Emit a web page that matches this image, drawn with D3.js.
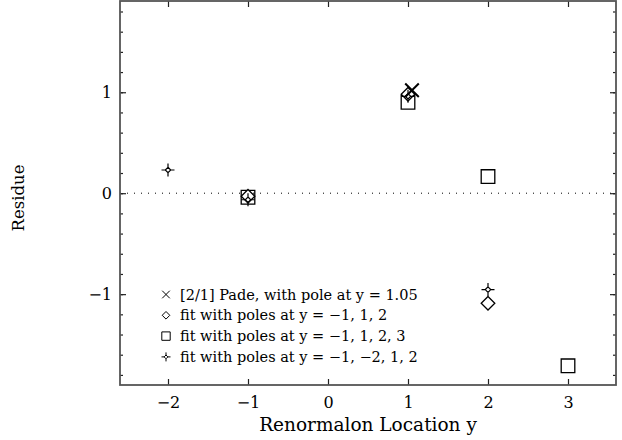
<!DOCTYPE html>
<html>
<head>
<meta charset="utf-8">
<style>
body { margin: 0; background: #fff; }
text { font-family: "DejaVu Serif", serif; fill: #000; }
</style>
</head>
<body>
<script src="https://cdn.jsdelivr.net/npm/d3@7"></script>
<script>

// data
var padeX = [1.05],            padeY = [1.02];
var fit3X = [-1, 1, 2],        fit3Y = [-0.03, 0.98, -1.09];
var fit4X = [-1, 1, 2, 3],     fit4Y = [-0.04, 0.90, 0.165, -1.71];
var starX = [-2, -1, 1, 2],    starY = [0.23, -0.065, 0.96, -0.955];

var xTicks = [-2, -1, 0, 1, 2, 3];
var yTicks = [-1, 0, 1];
var yMinor = d3.range(-1.8, 1.81, 0.2);
var legendLabels = [
  "[2/1] Pade, with pole at y = 1.05",
  "fit with poles at y = \u22121, 1, 2",
  "fit with poles at y = \u22121, 1, 2, 3",
  "fit with poles at y = \u22121, \u22122, 1, 2"
];

var width = 622, height = 440;
var pLeft = 120, pRight = 616, pTop = 1, pBottom = 385;

var x = d3.scaleLinear().domain([-2.6, 3.6]).range([pLeft, pRight]);
var y = d3.scaleLinear().domain([-1.9, 1.904]).range([pBottom, pTop]);

var svg = d3.select("body").append("svg")
    .attr("width", width)
    .attr("height", height);

// zero line
svg.append("line")
    .attr("x1", pLeft).attr("x2", pRight)
    .attr("y1", y(0)).attr("y2", y(0))
    .style("stroke", "#000")
    .style("stroke-width", 1)
    .style("stroke-dasharray", "1,6");

var fmt = function(d) { return d < 0 ? "\u2212" + Math.abs(d) : "" + d; };

// axes, ticks pointing inward
svg.append("g")
    .attr("transform", "translate(0," + pBottom + ")")
    .call(d3.axisBottom(x).tickValues(xTicks).tickSize(-6).tickPadding(12).tickFormat(fmt));
svg.append("g")
    .attr("transform", "translate(0," + pTop + ")")
    .call(d3.axisTop(x).tickValues(xTicks).tickSize(-6).tickFormat(""));
svg.append("g")
    .attr("transform", "translate(" + pLeft + ",0)")
    .call(d3.axisLeft(y).tickValues(yMinor).tickSize(-3).tickFormat(""));
svg.append("g")
    .attr("transform", "translate(" + pRight + ",0)")
    .call(d3.axisRight(y).tickValues(yMinor).tickSize(-3).tickFormat(""));
svg.append("g")
    .attr("transform", "translate(" + pLeft + ",0)")
    .call(d3.axisLeft(y).tickValues(yTicks).tickSize(-6).tickPadding(8).tickFormat(fmt));
svg.append("g")
    .attr("transform", "translate(" + pRight + ",0)")
    .call(d3.axisRight(y).tickValues(yTicks).tickSize(-6).tickFormat(""));

svg.selectAll(".domain").remove();
svg.selectAll(".tick line").style("stroke", "#222").style("stroke-width", 1.2);
svg.selectAll(".tick text")
    .style("font-family", "DejaVu Serif, serif")
    .style("font-size", "16px")
    .style("fill", "#000");

// frame
svg.append("rect")
    .attr("x", pLeft).attr("y", pTop)
    .attr("width", pRight - pLeft).attr("height", pBottom - pTop)
    .style("fill", "none")
    .style("stroke", "#555")
    .style("stroke-width", 1.8);

// axis titles
svg.append("text")
    .attr("x", (pLeft + pRight) / 2)
    .attr("y", 431)
    .attr("text-anchor", "middle")
    .style("font-size", "18.5px")
    .text("Renormalon Location y");

svg.append("text")
    .attr("transform", "translate(24,198) rotate(-90)")
    .attr("text-anchor", "middle")
    .style("font-size", "16.5px")
    .text("Residue");

// marker shapes, r = half size
function markerPath(kind, r) {
  var p = d3.path();
  if (kind === "x") {
    p.moveTo(-r, -r); p.lineTo(r, r);
    p.moveTo(r, -r); p.lineTo(-r, r);
  } else if (kind === "diamond") {
    p.moveTo(0, -r); p.lineTo(r, 0); p.lineTo(0, r); p.lineTo(-r, 0); p.closePath();
  } else if (kind === "square") {
    p.rect(-r, -r, 2 * r, 2 * r);
  } else if (kind === "star") {
    var a = r * 0.42;
    p.moveTo(0, -r); p.lineTo(0, -a);
    p.moveTo(0, r); p.lineTo(0, a);
    p.moveTo(-r, 0); p.lineTo(-a, 0);
    p.moveTo(r, 0); p.lineTo(a, 0);
    p.moveTo(0, -a); p.lineTo(a, 0); p.lineTo(0, a); p.lineTo(-a, 0); p.closePath();
  }
  return p.toString();
}

var series = [
  {kind: "square",  xs: fit4X, ys: fit4Y, r: 6.8, w: 1.3},
  {kind: "diamond", xs: fit3X, ys: fit3Y, r: 6.8, w: 1.3},
  {kind: "star",    xs: starX, ys: starY, r: 6.5, w: 1.2},
  {kind: "x",       xs: padeX, ys: padeY, r: 6.8, w: 2}
];

series.forEach(function(s) {
  svg.append("g").selectAll("path")
      .data(s.xs.map(function(v, i) { return [v, s.ys[i]]; }))
      .enter().append("path")
      .attr("transform", function(d) { return "translate(" + x(d[0]) + "," + y(d[1]) + ")"; })
      .attr("d", markerPath(s.kind, s.r))
      .style("fill", s.kind === "x" ? "none" : "#fff")
      .style("fill-opacity", s.kind === "square" ? 0 : 1)
      .style("stroke", "#000")
      .style("stroke-width", s.w);
});

// legend
var legendKinds = ["x", "diamond", "square", "star"];
var legend = svg.append("g").selectAll("g")
    .data(legendLabels)
    .enter().append("g")
    .attr("transform", function(d, i) { return "translate(166," + (294.5 + i * 20.8) + ")"; });

legend.append("path")
    .attr("d", function(d, i) { return markerPath(legendKinds[i], i === 2 ? 4.2 : (i === 3 ? 4.5 : 3.8)); })
    .style("fill", "none")
    .style("stroke", "#000")
    .style("stroke-width", 1);

legend.append("text")
    .attr("x", 14)
    .attr("y", 5)
    .style("font-size", "14.5px")
    .text(function(d) { return d; });

</script>
</body>
</html>
